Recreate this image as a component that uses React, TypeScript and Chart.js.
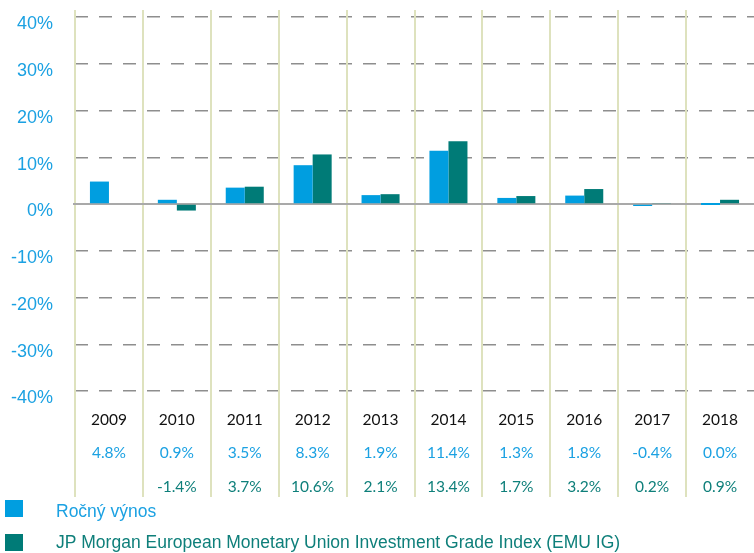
import React, { useEffect, useRef } from "react";
import { Chart, registerables } from "chart.js";

Chart.register(...registerables);

const years = ["2009", "2010", "2011", "2012", "2013", "2014", "2015", "2016", "2017", "2018"];
const fundReturns = [4.8, 0.9, 3.5, 8.3, 1.9, 11.4, 1.3, 1.8, -0.4, 0.0];
const indexReturns: (number | null)[] = [null, -1.4, 3.7, 10.6, 2.1, 13.4, 1.7, 3.2, 0.2, 0.9];
const fundLabels = ["4.8%", "0.9%", "3.5%", "8.3%", "1.9%", "11.4%", "1.3%", "1.8%", "-0.4%", "0.0%"];
const indexLabels = ["", "-1.4%", "3.7%", "10.6%", "2.1%", "13.4%", "1.7%", "3.2%", "0.2%", "0.9%"];
const seriesNames = ["Ročný výnos", "JP Morgan European Monetary Union Investment Grade Index (EMU IG)"];
const yMin = -40;
const yMax = 40;
const yStep = 10;

const BLUE = "#009EE0";
const TEAL = "#007B77";
const BLUE_TEXT = "#1BA1E2";
const TEAL_TEXT = "#0E7F7A";

const tablePlugin = {
  id: "tableAndLegend",
  beforeDatasetsDraw(chart: any) {
    const { ctx, chartArea, scales } = chart;
    const x = scales.x;
    const y = scales.y;
    const step = x.getPixelForValue(1) - x.getPixelForValue(0);
    ctx.save();
    ctx.strokeStyle = "#DEE2BE";
    ctx.lineWidth = 2;
    for (let i = 0; i < years.length; i++) {
      const bx = Math.round(x.getPixelForValue(i) - step / 2);
      ctx.beginPath();
      ctx.moveTo(bx, 10);
      ctx.lineTo(bx, 497);
      ctx.stroke();
    }
    const y0 = y.getPixelForValue(0);
    ctx.strokeStyle = "#A9A9A9";
    ctx.lineWidth = 2;
    ctx.beginPath();
    ctx.moveTo(chartArea.left - 2, y0);
    ctx.lineTo(chartArea.right, y0);
    ctx.stroke();
    ctx.restore();
  },
  afterDraw(chart: any) {
    const { ctx, scales } = chart;
    const x = scales.x;
    ctx.save();
    ctx.textAlign = "center";
    ctx.textBaseline = "middle";
    ctx.font = "15.5px Lato";
    for (let i = 0; i < years.length; i++) {
      const cx = x.getPixelForValue(i);
      ctx.fillStyle = "#111111";
      ctx.fillText(years[i], cx, 420);
      ctx.fillStyle = BLUE_TEXT;
      ctx.fillText(fundLabels[i], cx, 453);
      ctx.fillStyle = TEAL_TEXT;
      if (indexLabels[i]) ctx.fillText(indexLabels[i], cx, 487);
    }
    // legend
    ctx.textAlign = "left";
    ctx.font = "17.5px 'Liberation Sans'";
    ctx.fillStyle = BLUE;
    ctx.fillRect(5, 500, 18, 17);
    ctx.fillStyle = BLUE_TEXT;
    ctx.fillText(seriesNames[0], 56, 512);
    ctx.fillStyle = TEAL;
    ctx.fillRect(5, 534, 18, 17);
    ctx.fillStyle = TEAL_TEXT;
    ctx.fillText(seriesNames[1], 56, 543);
    ctx.restore();
  },
};

export default function App() {
  const ref = useRef<HTMLCanvasElement | null>(null);
  useEffect(() => {
    if (!ref.current) return;
    const chart = new Chart(ref.current, {
      type: "bar",
      data: {
        labels: years,
        datasets: [
          {
            label: seriesNames[0],
            data: fundReturns,
            backgroundColor: BLUE,
            borderWidth: 0,
            minBarLength: 2,
          },
          {
            label: seriesNames[1],
            data: indexReturns,
            backgroundColor: TEAL,
            borderWidth: 0,
          },
        ],
      },
      options: {
        responsive: false,
        animation: false,
        maintainAspectRatio: false,
        layout: { padding: { top: 17, right: 0, bottom: 0, left: 0 } },
        datasets: { bar: { categoryPercentage: 0.56, barPercentage: 1 } },
        plugins: { legend: { display: false }, tooltip: { enabled: false } },
        scales: {
          x: {
            grid: { display: false },
            border: { display: false },
            ticks: { display: false },
            afterFit: (s: any) => {
              s.height = 162;
              s.paddingLeft = 0;
              s.paddingRight = 0;
            },
          },
          y: {
            min: yMin,
            max: yMax,
            ticks: {
              stepSize: yStep,
              callback: (v: any) => `${v}%`,
              color: BLUE_TEXT,
              font: { family: "'Liberation Sans'", size: 18 },
              padding: 22,
              labelOffset: 7.5,
            },
            grid: { color: "#8E8E8E", lineWidth: 1.5, drawTicks: false },
            border: { display: false, dash: [13, 11] },
            afterFit: (s: any) => {
              s.width = 75;
              s.paddingTop = 0;
              s.paddingBottom = 0;
            },
          },
        },
      },
      plugins: [tablePlugin],
    } as any);
    return () => chart.destroy();
  }, []);
  return (
    <div style={{ position: "absolute", left: 0, top: 0, width: 754, height: 553, background: "#fff" }}>
      <canvas ref={ref} width={754} height={553} />
    </div>
  );
}
